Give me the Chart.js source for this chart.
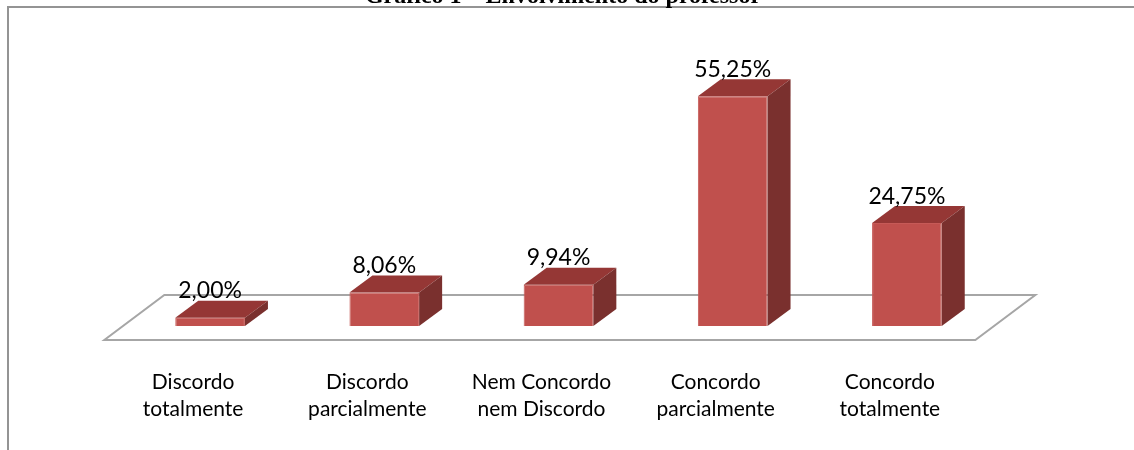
<!DOCTYPE html>
<html>
<head>
<meta charset="utf-8">
<script src="https://cdn.jsdelivr.net/npm/chart.js@4/dist/chart.umd.min.js"></script>
<style>
  html, body { margin: 0; padding: 0; background: #fff; }
  #wrap { position: relative; width: 1134px; height: 450px; }
</style>
</head>
<body>
<div id="wrap"><canvas id="grafico" width="1134" height="450"></canvas></div>
<script>
const categorias = [
    ['Discordo', 'totalmente'],
    ['Discordo', 'parcialmente'],
    ['Nem Concordo', 'nem Discordo'],
    ['Concordo', 'parcialmente'],
    ['Concordo', 'totalmente']
]
const percentuais = [2.00, 8.06, 9.94, 55.25, 24.75]
const rotulos = ['2,00%', '8,06%', '9,94%', '55,25%', '24,75%']
const titulo = 'Gráfico 1 – Envolvimento do professor'

// profundidade das barras e do piso (efeito 3D)
const barraDx = 23, barraDy = 17
const pisoTrasDy = 31, pisoFrenteDy = 14, inclinacao = 60 / 45

const moldura = {
    id: 'moldura',
    beforeDraw(chart) {
        const ctx = chart.ctx
        ctx.save()
        ctx.strokeStyle = '#949494'
        ctx.lineWidth = 2
        ctx.beginPath()
        ctx.moveTo(8, 450)
        ctx.lineTo(8, 7)
        ctx.lineTo(1134, 7)
        ctx.stroke()
        ctx.fillStyle = '#000'
        ctx.font = 'bold 24px "Liberation Serif", "Times New Roman", serif'
        ctx.textAlign = 'center'
        ctx.textBaseline = 'alphabetic'
        ctx.fillText(titulo, 563, 3)
        ctx.restore()
    },
    beforeDatasetsDraw(chart) {
        const ctx = chart.ctx
        const a = chart.chartArea
        const base = chart.scales.y.getPixelForValue(0)
        const tdx = pisoTrasDy * inclinacao, fdx = pisoFrenteDy * inclinacao
        ctx.save()
        ctx.strokeStyle = '#A6A6A6'
        ctx.lineWidth = 2
        ctx.beginPath()
        ctx.moveTo(a.left + tdx, base - pisoTrasDy)
        ctx.lineTo(a.right + tdx, base - pisoTrasDy)
        ctx.lineTo(a.right - fdx, base + pisoFrenteDy)
        ctx.lineTo(a.left - fdx, base + pisoFrenteDy)
        ctx.closePath()
        ctx.stroke()
        ctx.restore()
    },
    afterDatasetsDraw(chart) {
        const ctx = chart.ctx
        const meta = chart.getDatasetMeta(0)
        ctx.save()
        meta.data.forEach((bar, i) => {
            const esq = bar.x - bar.width / 2
            const dir = bar.x + bar.width / 2
            const topo = bar.y
            const base = bar.base
            // face superior
            ctx.fillStyle = '#953735'
            ctx.beginPath()
            ctx.moveTo(esq, topo)
            ctx.lineTo(dir, topo)
            ctx.lineTo(dir + barraDx, topo - barraDy)
            ctx.lineTo(esq + barraDx, topo - barraDy)
            ctx.closePath()
            ctx.fill()
            // face lateral
            ctx.fillStyle = '#7A302E'
            ctx.beginPath()
            ctx.moveTo(dir, topo)
            ctx.lineTo(dir + barraDx, topo - barraDy)
            ctx.lineTo(dir + barraDx, base - barraDy)
            ctx.lineTo(dir, base)
            ctx.closePath()
            ctx.fill()
            // rótulo
            ctx.fillStyle = '#000'
            ctx.font = '23px Lato, "Open Sans", sans-serif'
            ctx.textAlign = 'center'
            ctx.textBaseline = 'middle'
            ctx.fillText(rotulos[i], bar.x, topo - 27)
        })
        ctx.restore()
    }
}

const ctx = document.getElementById('grafico').getContext('2d')
new Chart(ctx, {
    type: 'bar',
    data: {
        labels: categorias,
        datasets: [{
            data: percentuais,
            backgroundColor: '#C0504D',
            borderColor: '#C65A57',
            borderWidth: 1,
            categoryPercentage: 1,
            barPercentage: 0.4
        }]
    },
    options: {
        responsive: false,
        animation: false,
        devicePixelRatio: 1,
        layout: {
            padding: { left: 123, right: 140, top: 35, bottom: 0 }
        },
        plugins: {
            legend: { display: false },
            tooltip: { enabled: false },
            title: { display: false }
        },
        scales: {
            y: {
                display: false,
                min: 0,
                max: 70
            },
            x: {
                grid: { display: false, drawTicks: false },
                border: { display: false },
                ticks: {
                    color: '#000',
                    font: { family: 'Lato, "Open Sans", sans-serif', size: 21, lineHeight: 27 / 21 },
                    padding: 43,
                    labelOffset: -17,
                    maxRotation: 0,
                    autoSkip: false
                },
                afterFit(scale) {
                    scale.height = 124
                }
            }
        }
    },
    plugins: [moldura]
})
</script>
</body>
</html>
